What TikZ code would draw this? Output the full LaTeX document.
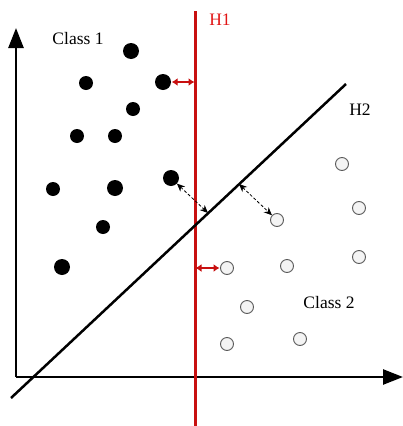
\documentclass[tikz,border=0pt]{standalone}
\usepackage{fontspec}
\setmainfont{Liberation Serif}
\usepackage{tikz}
\usetikzlibrary{arrows.meta}
\definecolor{hred}{RGB}{200, 16, 16}
\definecolor{labelred}{RGB}{225, 20, 20}
\definecolor{hollowfill}{RGB}{244, 244, 244}
\definecolor{hollowdraw}{RGB}{90, 90, 90}

\begin{document}
\begin{tikzpicture}[
      x=1pt, y=-1pt,
      font=\fontsize{17.5}{20}\selectfont,
      axis/.style={line width=2.5pt, -{Triangle[length=20pt, width=15pt]}},
      dotA/.style={circle, fill=black, inner sep=0pt, minimum size=14pt},
      dotbig/.style={dotA, minimum size=16pt},
      dotB/.style={circle, draw=hollowdraw, fill=hollowfill, line width=0.9pt, inner sep=0pt, minimum size=13pt},
      marginred/.style={hred, line width=1.3pt, {Latex[length=6pt, width=8pt]}-{Latex[length=6pt, width=8pt]}, shorten <=0.5pt, shorten >=0.5pt},
      marginblack/.style={black, line width=0.8pt, dash pattern=on 3pt off 2pt, {Stealth[length=8pt, width=7pt]}-{Stealth[length=8pt, width=7pt]}}
    ]
      \useasboundingbox (0,0) rectangle (403,426);

      % axes
      \coordinate (origin) at (16,377);
      \coordinate (ytop) at (16,28);
      \coordinate (xend) at (403,377);
      \draw[axis] (16,377) -- (ytop);
      \draw[axis] (origin) -- (xend);

      % hyperplanes
      \coordinate (h1top) at (195,11);
      \coordinate (h1bot) at (195,426);
      \draw[hred, line width=3pt] (h1top) -- (h1bot);
      \node[labelred] (h1label) at (220,20) {H1};

      \coordinate (h2bot) at (11,398);
      \coordinate (h2top) at (346,84);
      \draw[line width=2.5pt] (h2bot) -- (h2top);
      \node (h2label) at (360,110) {H2};

      % class 1
      \node (c1label) at (78,39) {Class 1};
      \node[dotbig] (a1) at (131,51) {};
      \node[dotA] (a2) at (86,83) {};
      \node[dotbig] (a3) at (163,82) {};
      \node[dotA] (a4) at (133,109) {};
      \node[dotA] (a5) at (77,136) {};
      \node[dotA] (a6) at (115,136) {};
      \node[dotA] (a7) at (53,189) {};
      \node[dotbig] (a8) at (115,188) {};
      \node[dotbig] (a9) at (171,178) {};
      \node[dotA] (a10) at (103,227) {};
      \node[dotbig] (a11) at (62,267) {};

      % class 2
      \node (c2label) at (329,303) {Class 2};
      \node[dotB] (b1) at (342,164) {};
      \node[dotB] (b2) at (359,208) {};
      \node[dotB] (b3) at (277,220) {};
      \node[dotB] (b4) at (227,268) {};
      \node[dotB] (b5) at (287,266) {};
      \node[dotB] (b6) at (359,257) {};
      \node[dotB] (b7) at (247,307) {};
      \node[dotB] (b8) at (227,344) {};
      \node[dotB] (b9) at (300,339) {};

      % margins
      \coordinate (m1) at (195,82);
      \coordinate (m2) at (195,268);
      \draw[marginred] (a3) -- (m1);
      \draw[marginred] (m2) -- (b4);

      \coordinate (m3) at (208,213);
      \coordinate (m4) at (239,184);
      \draw[marginblack] (a9) -- (m3);
      \draw[marginblack] (m4) -- (b3);
    \end{tikzpicture}
\end{document}
